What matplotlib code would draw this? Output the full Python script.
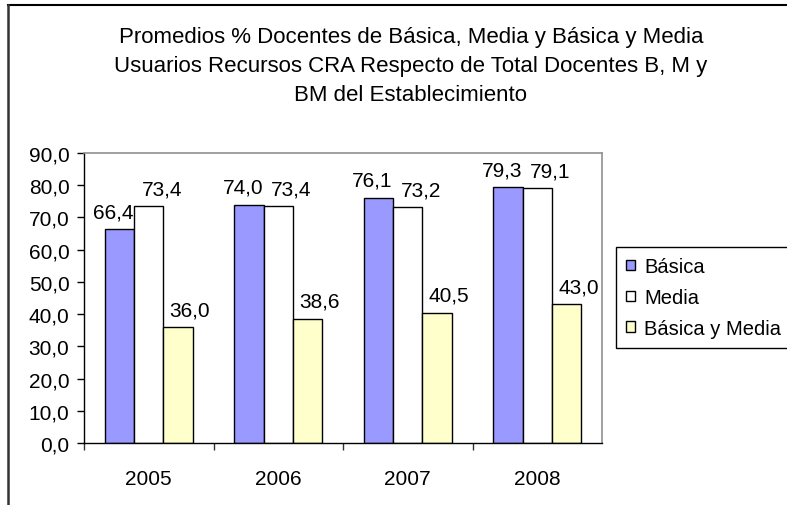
import matplotlib
matplotlib.use("Agg")
import matplotlib.pyplot as plt
from matplotlib.lines import Line2D
import numpy as np

plt.rcParams['font.family'] = ['Liberation Sans', 'DejaVu Sans']

# values
years = ['2005', '2006', '2007', '2008']
basica = [66.4, 74.0, 76.1, 79.3]
media = [73.4, 73.4, 73.2, 79.1]
basica_media = [36.0, 38.6, 40.5, 43.0]
series_names = ['Básica', 'Media', 'Básica y Media']
title_lines = ['Promedios % Docentes de Básica, Media y Básica y Media',
               'Usuarios Recursos CRA Respecto de Total Docentes B, M y',
               'BM del Establecimiento']

W, H = 787, 506
fig = plt.figure(figsize=(W / 100, H / 100), dpi=100)
ax = fig.add_axes([84 / W, 1 - 444 / H, (602 - 84) / W, (444 - 154) / H])

x = np.arange(len(years))
width = 0.226
colors = ['#9999FF', '#FFFFFF', '#FFFFCC']
# label offsets in points (Excel puts them a bit off-centre)
label_dx = [-4.3, 9.4, 8.6]

for i, (vals, name) in enumerate(zip([basica, media, basica_media], series_names)):
    rects = ax.bar(x + (i - 1) * width, vals, width, color=colors[i],
                   edgecolor='black', linewidth=1.0, label=name, zorder=2)
    for rect in rects:
        h = rect.get_height()
        ax.annotate('{:.1f}'.format(h).replace('.', ','),
                    xy=(rect.get_x() + rect.get_width() / 2, h),
                    xytext=(label_dx[i], 8.6), textcoords='offset points',
                    ha='center', va='baseline', fontsize=15)

ax.set_xlim(-0.5, len(years) - 0.5)
ax.set_ylim(0, 90)
yt = np.arange(0, 91, 10)
ax.set_yticks(yt)
ax.set_yticklabels(['{:.1f}'.format(v).replace('.', ',') for v in yt])
ax.set_xticks(x)
ax.set_xticklabels(years)
ax.set_xticks(np.arange(-0.5, len(years) - 0.5, 1), minor=True)

ax.tick_params(axis='y', direction='out', length=5, width=1, pad=5.5, labelsize=15)
ax.tick_params(axis='x', which='major', length=0, pad=19, labelsize=15)
ax.tick_params(axis='x', which='minor', direction='out', length=5, width=1, color='#333333')

for side in ['left', 'bottom']:
    ax.spines[side].set_color('black')
    ax.spines[side].set_linewidth(1.0)
for side in ['top', 'right']:
    ax.spines[side].set_color('#909090')
    ax.spines[side].set_linewidth(1.2)

# title, one line at a time
for k, line in enumerate(title_lines):
    fig.text(411 / W, 1 - (43 + 29 * k) / H, line, ha='center', va='baseline', fontsize=16)

leg = fig.legend(loc='upper left', bbox_to_anchor=(616 / W, 1 - 248 / H),
                 borderaxespad=0, fancybox=False, framealpha=1, edgecolor='black',
                 fontsize=14.5, handlelength=0.42, handleheight=0.42, handletextpad=0.45,
                 borderpad=0.52, labelspacing=0.58)
leg.get_frame().set_linewidth(1.0)

# chart area border (cropped on the right and bottom)
fig.add_artist(Line2D([8 / W, 1], [1 - 6 / H, 1 - 6 / H], color='black', lw=1.5))
fig.add_artist(Line2D([8 / W, 8 / W], [0, 1 - 6 / H], color='#333333', lw=1.8))

fig.savefig('out.png', dpi=100)
